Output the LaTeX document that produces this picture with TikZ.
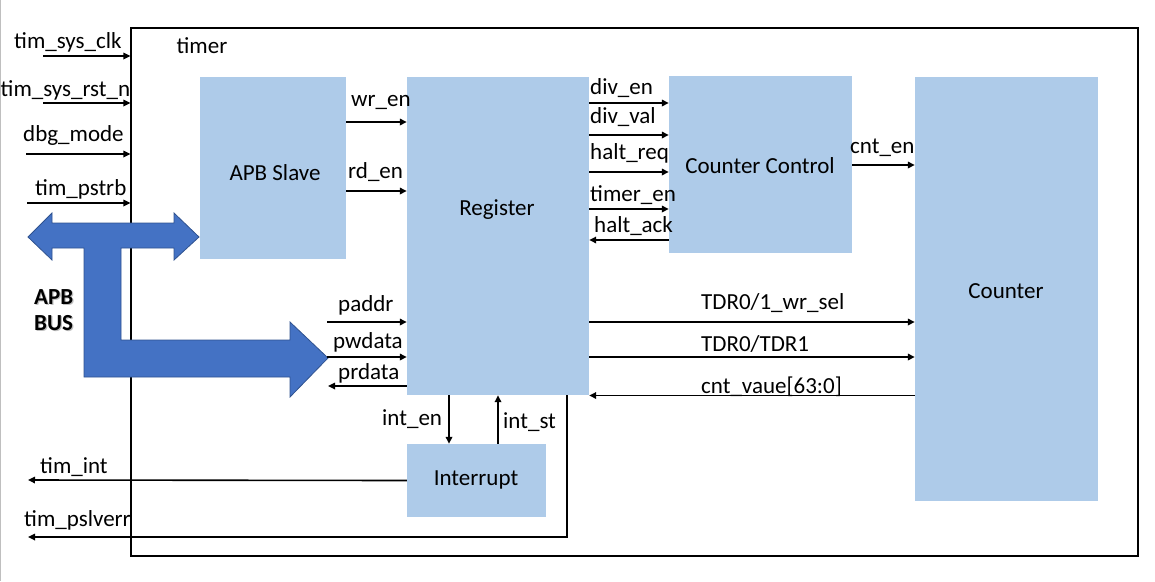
\documentclass[tikz,border=0pt]{standalone}
\usepackage{fontspec}
\setmainfont{Carlito}
\usetikzlibrary{arrows.meta}
\definecolor{boxblue}{HTML}{AECBE9}
\definecolor{busblue}{HTML}{4472C4}
\definecolor{busedge}{HTML}{2F528F}
\begin{document}
\begin{tikzpicture}[x=1pt,y=-1pt,
  box/.style={fill=boxblue, draw=none, inner sep=0, rectangle},
  sig/.style={line width=1.6pt, -{Triangle[length=7pt,width=6.5pt]}},
  lbl/.style={inner sep=0, font=\fontsize{23}{27}\selectfont},
  lblw/.style={lbl, anchor=west},
  busfont/.style={lblw, font=\fontsize{23}{27}\selectfont\bfseries},
]
\useasboundingbox (0,0) rectangle (1155,581);
\draw[black!25, line width=1pt] (0.5,0) -- (0.5,581);

% outer timer block
\node[draw=black, line width=1.1pt, minimum width=1007, minimum height=528, inner sep=0] (timer) at (634.5,292) {};
\node[lbl] (timertxt) at (202,46) {timer};

% blocks
\node[box, minimum width=146, minimum height=182] (apb) at (273,168) {};
\node[box, minimum width=182, minimum height=318] (reg) at (498,236) {};
\node[box, minimum width=183, minimum height=177] (cc) at (760.5,164.5) {};
\node[box, minimum width=183, minimum height=424] (cnt) at (1006.5,289) {};
\node[box, minimum width=139, minimum height=73] (intr) at (476.5,480.5) {};
\node[lbl] (apbtxt) at (275,173) {APB Slave};
\node[lbl] (regtxt) at (497,210) {Register};
\node[lbl] (cctxt) at (760,166) {Counter Control};
\node[lbl] (cnttxt) at (1006,291) {Counter};
\node[lbl] (intrtxt) at (476,480) {Interrupt};

% left inputs
\coordinate (clkin) at (43,56);
\coordinate (rstin) at (43,103);
\coordinate (dbgin) at (26,154);
\coordinate (strbin) at (27,203);
\draw[sig] (clkin) -- (clkin -| timer.west);
\draw[sig] (rstin) -- (rstin -| timer.west);
\draw[sig] (dbgin) -- (dbgin -| timer.west);
\draw[sig] (strbin) -- (strbin -| timer.west);
\node[lblw] (l1) at (14,42) {tim\_sys\_clk};
\node[lblw] (l2) at (0.5,90) {tim\_sys\_rst\_n};
\node[lblw] (l3) at (23,135) {dbg\_mode};
\node[lblw] (l4) at (35,189) {tim\_pstrb};

% APB bus shape
\draw[fill=busblue, draw=busedge, line width=0.8pt, line join=miter]
  (28,237) -- (52,213) -- (52,223) -- (174,223) -- (174,213) -- (199,237)
  -- (174,260) -- (174,248) -- (121,248) -- (121,340) -- (290,340) -- (290,322)
  -- (328,358) -- (290,397) -- (290,377) -- (84,377) -- (84,248) -- (52,248)
  -- (52,260) -- cycle;
\node[busfont, text=black!25] (busa) at (35.2,298.2) {APB};
\node[busfont, text=black!25] (busb) at (35.2,324.2) {BUS};
\node[busfont] (bus1) at (34,297) {APB};
\node[busfont] (bus2) at (34,323) {BUS};

% APB slave -> register
\draw[sig] (apb.east |- 0,122) -- (reg.west |- 0,122);
\draw[sig] (apb.east |- 0,191) -- (reg.west |- 0,191);
\node[lblw] (wren) at (351,102) {wr\_en};
\node[lblw] (rden) at (348,172) {rd\_en};

% bus signals
\coordinate (paddrin) at (327,322);
\coordinate (pwdatain) at (327,357);
\coordinate (prdataout) at (328,386);
\draw[sig] (paddrin) -- (paddrin -| reg.west);
\draw[sig] (pwdatain) -- (pwdatain -| reg.west);
\draw[sig] (prdataout -| reg.west) -- (prdataout);
\node[lblw] (paddr) at (338,305) {paddr};
\node[lblw] (pwdata) at (333,342) {pwdata};
\node[lblw] (prdata) at (338,373) {prdata};

% register <-> counter control
\draw[sig] (reg.east |- 0,103) -- (cc.west |- 0,103);
\draw[sig] (reg.east |- 0,135) -- (cc.west |- 0,135);
\draw[sig] (reg.east |- 0,172) -- (cc.west |- 0,172);
\draw[sig] (reg.east |- 0,209) -- (cc.west |- 0,209);
\draw[sig] (cc.west |- 0,240) -- (reg.east |- 0,240);
\node[lblw] (diven) at (590,88) {div\_en};
\node[lblw] (divval) at (590,117) {div\_val};
\node[lblw] (haltreq) at (590,153) {halt\_req};
\node[lblw] (timeren) at (590,195) {timer\_en};
\node[lblw] (haltack) at (594,226) {halt\_ack};

% counter control -> counter
\draw[sig] (cc.east |- 0,165) -- (cnt.west |- 0,165);
\node[lblw] (cnten) at (850,148) {cnt\_en};

% register <-> counter
\draw[sig] (reg.east |- 0,322) -- (cnt.west |- 0,322);
\draw[sig] (reg.east |- 0,357) -- (cnt.west |- 0,357);
\draw[sig] (cnt.west |- 0,395.5) -- (reg.east |- 0,395.5);
\node[lblw] (tdrsel) at (701,303) {TDR0/1\_wr\_sel};
\node[lblw] (tdr) at (701,344) {TDR0/TDR1};
\node[lblw] (cntval) at (701,387) {cnt\_vaue[63:0]};

% register <-> interrupt
\draw[sig] (reg.south -| 449,0) -- (intr.north -| 449,0);
\draw[sig] (intr.north -| 498,0) -- (reg.south -| 498,0);
\node[lblw] (inten) at (382,419) {int\_en};
\node[lblw] (intst) at (503,422) {int\_st};

% outputs
\coordinate (timintout) at (28,480);
\coordinate (pslvout) at (28,537);
\draw[sig] (intr.west) -- (timintout);
\draw[sig, line join=miter] (reg.south -| 567,0) |- (pslvout);
\node[lblw] (timint) at (40,467) {tim\_int};
\node[lblw] (pslverr) at (24,520) {tim\_pslverr};
\end{tikzpicture}
\end{document}
